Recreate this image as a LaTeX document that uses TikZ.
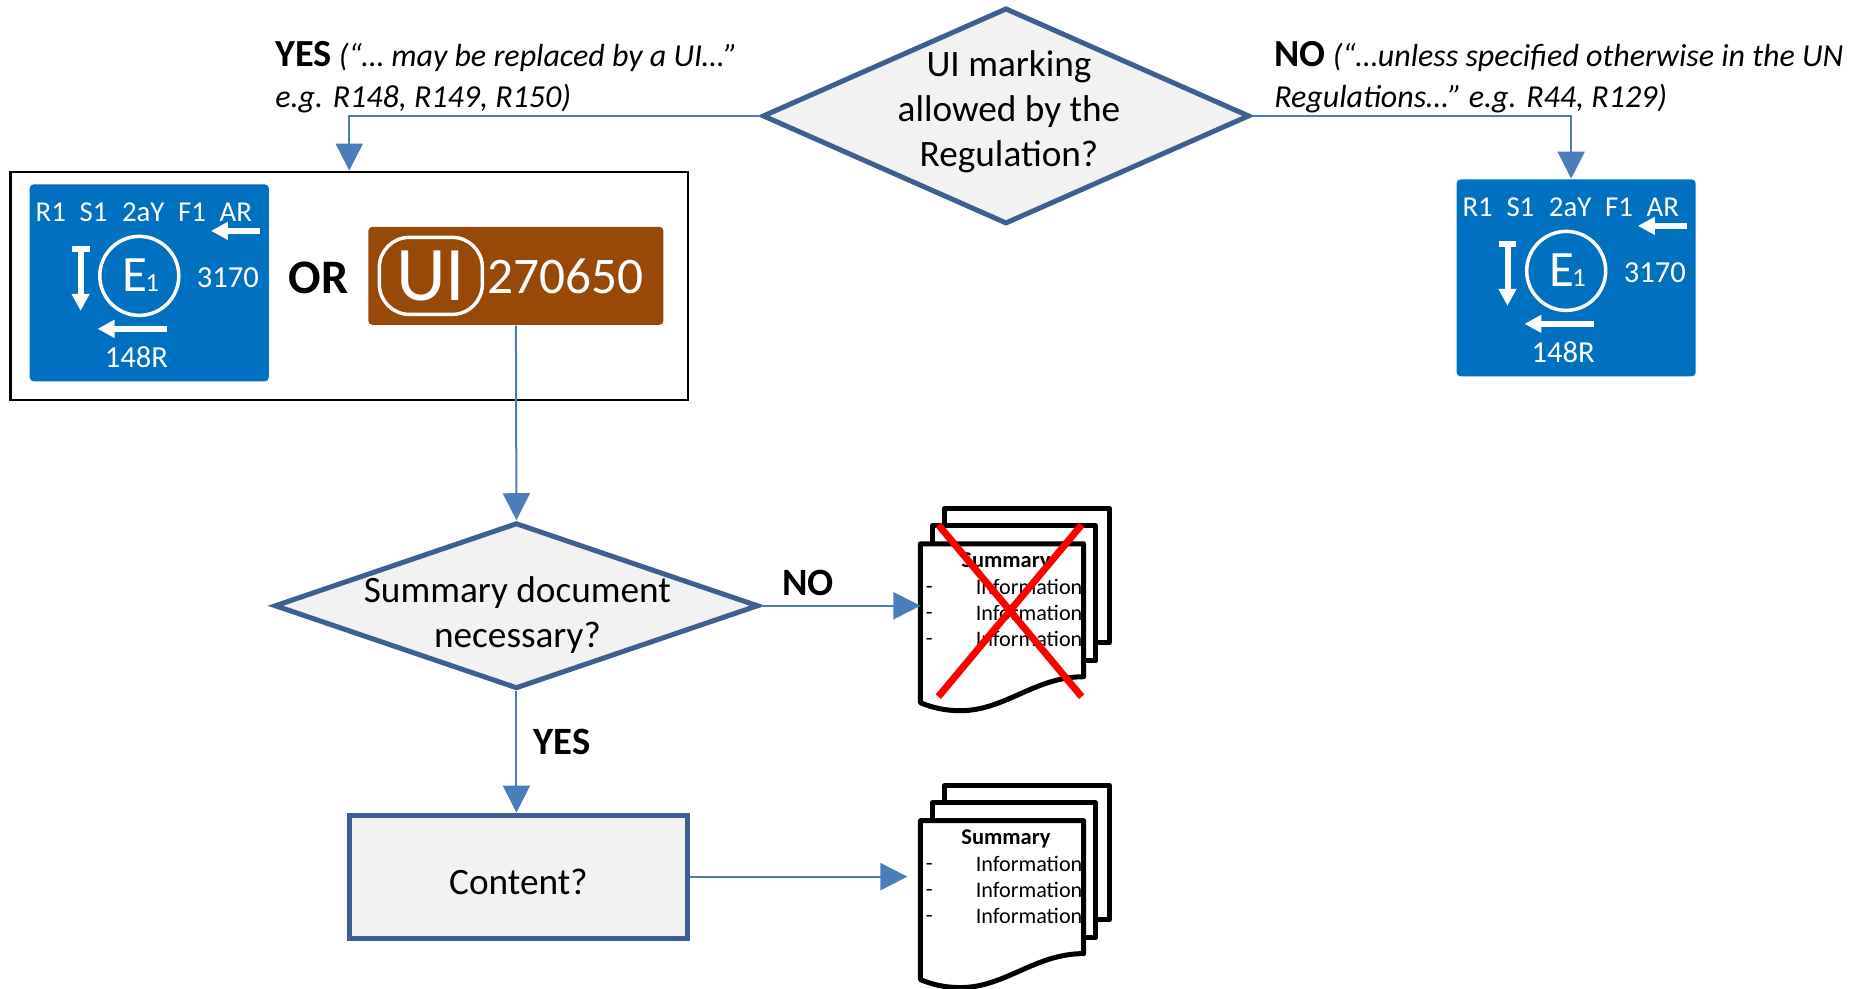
\documentclass[tikz,border=0pt]{standalone}
\usepackage{fontspec}
\setmainfont{Carlito}
\usetikzlibrary{arrows.meta,shapes.geometric}

\definecolor{flowblue}{HTML}{4A7EBB}
\definecolor{edgeblue}{HTML}{3D6090}
\definecolor{panelgrey}{HTML}{F2F2F2}
\definecolor{markblue}{HTML}{0070C0}
\definecolor{markbrown}{HTML}{984807}

\tikzset{
	decision/.style={diamond, aspect=2, draw=edgeblue, fill=panelgrey, line width=0.05cm, inner sep=0pt},
	asktext/.style={align=center, font=\fontsize{10.6}{12.8}\selectfont},
	flow/.style={draw=flowblue, line width=0.02cm, -{Triangle[length=0.27cm, width=0.27cm]}},
	tag/.style={font=\fontsize{11}{12}\selectfont\bfseries},
	marktext/.style={text=white, font=\fontsize{8.2}{10}\selectfont},
	marklarge/.style={text=white, font=\fontsize{8.7}{10}\selectfont},
	markarrow/.style={draw=white, line width=0.06cm, -{Triangle[length=0.17cm, width=0.17cm]}},
	pagesheet/.style={draw=black, fill=white, line width=0.05cm, line join=round},
	pagetext/.style={font=\fontsize{6.3}{7.5}\selectfont, inner sep=0pt},
	quote/.style={anchor=north west, align=left, inner sep=0pt, font=\fontsize{9.1}{11.7}\selectfont\itshape},
}

% approval mark, drawn at the position of the left one
\newcommand{\approvalmark}[3]{
	\begin{scope}[shift={(#2,#3)}]
		\node[fill=markblue, rounded corners=0.04cm, minimum width=2.39cm, minimum height=1.97cm, inner sep=0pt] (#1) at (150,283) {};
		\foreach \lab/\xx in {R1/51, S1/94, 2aY/144, F1/193, AR/237}
			\node[marktext] (#1\lab) at (\xx,212) {\lab};
		\draw[markarrow] (261,231) -- (212,231);
		\draw[markarrow] (168,329) -- (98,329);
		\draw[markarrow] (81,249) -- (81,311);
		\draw[draw=white, line width=0.06cm] (72,249) -- (90,249);
		\node[draw=white, circle, line width=0.035cm, minimum size=0.79cm, inner sep=0pt] (#1ring) at (140,276) {};
		\node[text=white, font=\fontsize{14.5}{15}\selectfont] (#1e) at (136,275) {E};
		\node[text=white, font=\fontsize{7.5}{9}\selectfont] (#1one) at (153,283) {1};
		\node[marklarge] (#1num) at (229,278) {3170};
		\node[marklarge] (#1reg) at (137,357) {148R};
	\end{scope}
}

% stack of three sheets
\newcommand{\sheetstack}[2]{
	\begin{scope}[yshift=#2*-0.01cm]
		\draw[pagesheet] (949,509) rectangle (1115,643);
		\draw[pagesheet] (937,526) rectangle (1101,661);
		\draw[pagesheet] (925,544) -- (1089,544) -- (1089,677) .. controls (1040,677) and (1010,711) .. (965,711) .. controls (950,711) and (937,708) .. (925,703) -- cycle;
		\coordinate (#1door) at (925,606);
		\node[pagetext, font=\fontsize{6.4}{7.5}\selectfont\bfseries] (#1head) at (1011,562) {Summary};
		\foreach \row/\yy in {a/587, b/613, c/639} {
			\node[pagetext, anchor=base] (#1dash\row) at (934,\yy+7) {-};
			\node[pagetext, anchor=west] (#1info\row) at (980,\yy) {Information};
		}
	\end{scope}
}

\begin{document}
\begin{tikzpicture}[x=0.00995cm, y=-0.01cm]
	\useasboundingbox (0,0) rectangle (1872.3,989);

	% Decisions
	\node[decision, minimum width=4.87cm, minimum height=2.16cm] (askui) at (1011,116) {};
	\node[asktext] (askuitext) at (1014,111.5) {UI marking\\allowed by the\\Regulation?};
	\node[decision, minimum width=4.84cm, minimum height=1.66cm] (asksummary) at (519,606) {};
	\node[asktext] (asksummarytext) at (520,615.5) {Summary document\\necessary?};

	% Left choice
	\node[draw=black, line width=0.025cm, fill=white, minimum width=6.77cm, minimum height=2.28cm, inner sep=0pt] (choicebox) at (351,286) {};
	\approvalmark{markleft}{0}{0}
	\node[font=\fontsize{13.7}{15}\selectfont\bfseries] (ortext) at (320,278) {OR};
	\node[fill=markbrown, rounded corners=0.04cm, minimum width=2.95cm, minimum height=0.98cm, inner sep=0pt] (uibadge) at (518.5,276) {};
	\node[draw=white, line width=0.035cm, rounded corners=0.3cm, minimum width=1.03cm, minimum height=0.77cm, inner sep=0pt] (uiring) at (433,276) {};
	\node[text=white, font=\fontsize{22}{24}\selectfont] (uitext) at (433,276) {UI};
	\node[text=white, font=\fontsize{14.6}{16}\selectfont] (uinumber) at (568,276) {270650};

	% Right mark
	\approvalmark{markright}{1434}{-5}

	% Result
	\node[draw=edgeblue, fill=panelgrey, line width=0.05cm, minimum width=3.38cm, minimum height=1.23cm, inner sep=0pt] (contentbox) at (521,877) {};
	\node[asktext] (contenttext) at (521,882) {Content?};
	\sheetstack{crossed}{0}
	\sheetstack{kept}{277}

	% Cross
	\coordinate (crossa) at (943,697);
	\coordinate (crossb) at (1087,525);
	\coordinate (crossc) at (943,525);
	\coordinate (crossd) at (1087,697);
	\draw[red, line width=0.07cm] (crossa) -- (crossb);
	\draw[red, line width=0.07cm] (crossc) -- (crossd);

	% Labels
	\node[quote] (yesnote) at (276,41) {{\fontsize{10.9}{11.7}\selectfont\upshape\bfseries YES} (“… may be replaced by a UI…”\\e.g. R148, R149, R150)};
	\node[quote] (nonote) at (1280,41) {{\fontsize{10.9}{11.7}\selectfont\upshape\bfseries NO} (“…unless specified otherwise in the UN\\Regulations…” e.g. R44, R129)};
	\node[tag] (notag) at (812,583) {NO};
	\node[tag] (yestag) at (565,742) {YES};

	% Connect
	\draw[flow] (askui.west) -| (choicebox.north);
	\draw[flow] (askui.east) -| ([xshift=-0.05cm]markright.north);
	\draw[flow] (uibadge.south) -- (asksummary.north);
	\draw[flow] (asksummary.east) -- (asksummary.east -| crosseddoor);
	\draw[flow] (asksummary.south) -- (asksummary.south |- contentbox.north);
	\draw[flow] (contentbox.east) -- ([xshift=-0.13cm]contentbox.east -| keptdoor);

\end{tikzpicture}
\end{document}
